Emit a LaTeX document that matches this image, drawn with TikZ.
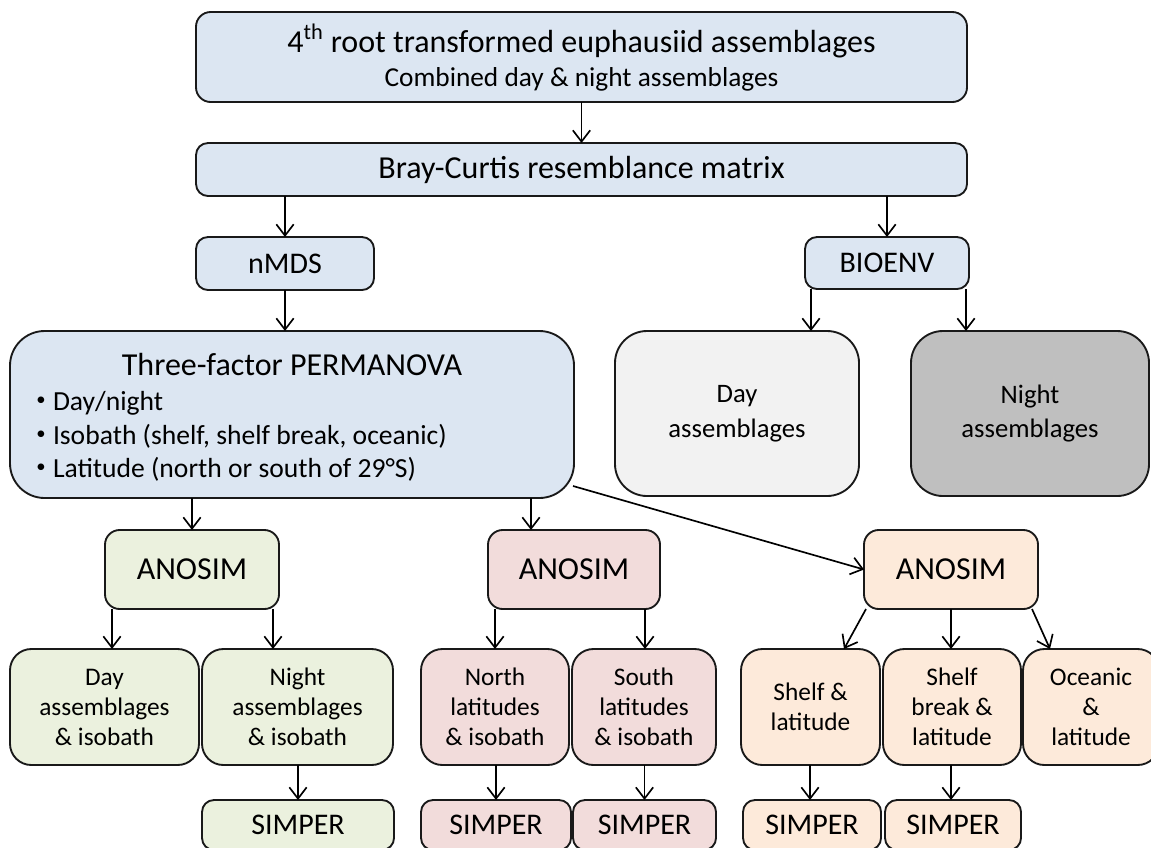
\documentclass[tikz,border=0pt]{standalone}
\usepackage{fontspec}
\setmainfont{Carlito}
\usetikzlibrary{arrows.meta,calc}
\definecolor{cblue}{HTML}{DCE6F2}
\definecolor{cgreen}{HTML}{EBF1DE}
\definecolor{cpink}{HTML}{F2DCDB}
\definecolor{corange}{HTML}{FDEADA}
\definecolor{clight}{HTML}{F2F2F2}
\definecolor{cdark}{HTML}{BFBFBF}
\begin{document}
\begin{tikzpicture}[x=0.75pt,y=-0.75pt,
  every node/.style={inner sep=0pt, outer sep=0pt},
  box/.style={draw=black!90, line width=1.4pt, rounded corners=#1, align=center},
  box/.default=9pt,
  sz/.style 2 args={minimum width={#1*0.75pt}, minimum height={#2*0.75pt}},
  arr/.style={draw=black, line width=1.25pt, -{Straight Barb[length=8.5pt,width=13pt,line width=1.25pt]}},
  fbig/.style={font=\fontsize{24}{28}\selectfont},
  fmid/.style={font=\fontsize{22.5}{27}\selectfont},
  fsmall/.style={font=\fontsize{19}{22.5}\selectfont},
  bul/.style={font=\fontsize{14}{14}\selectfont},
  btxt/.style={anchor=base west, font=\fontsize{20.7}{25}\selectfont},
]
\useasboundingbox (0,0) rectangle (1151,847);
\clip (0,0) rectangle (1151,847);

% top level
\node[box=11pt, sz={771}{90}, fill=cblue] (top) at (581.5,57) {};
\node[anchor=base, fbig] (topt1) at (581.5,52) {4\textsuperscript{th} root transformed euphausiid assemblages};
\node[anchor=base, font=\fontsize{20.5}{24}\selectfont] (topt2) at (581.5,86) {Combined day \& night assemblages};

\node[box=9pt, sz={771}{53}, fill=cblue, fbig] (bray) at (581.5,169.5) {Bray-Curtis resemblance matrix};
\node[box=9pt, sz={178}{53}, fill=cblue, fmid] (nmds) at (285,263.5) {nMDS};
\node[box=9pt, sz={164}{52}, fill=cblue, fmid] (bioenv) at (887,263) {BIOENV};

% PERMANOVA
\node[box=26pt, sz={564}{167}, fill=cblue] (perm) at (292,414.5) {};
\node[anchor=base, fbig] (permt) at (292,375) {Three-factor PERMANOVA};
\node[bul] (b1) at (41,401) {•};
\node[bul] (b2) at (41,435) {•};
\node[bul] (b3) at (41,468) {•};
\node[btxt] (perm1) at (53,410) {Day/night};
\node[btxt] (perm2) at (53,444) {Isobath (shelf, shelf break, oceanic)};
\node[btxt] (perm3) at (53,477) {Latitude (north or south of 29°S)};

% BIOENV outcomes
\node[box=24pt, sz={244}{165}, fill=clight, font=\fontsize{20}{26}\selectfont] (dayA) at (737,413.5) {Day\\assemblages};
\node[box=24pt, sz={238}{165}, fill=cdark, font=\fontsize{20}{26}\selectfont] (nightA) at (1030,413.5) {Night\\assemblages};

% ANOSIM row
\node[box=11pt, sz={174}{79}, fill=cgreen, fbig] (anoG) at (192,569.5) {ANOSIM};
\node[box=11pt, sz={172}{79}, fill=cpink, fbig] (anoP) at (574,569.5) {ANOSIM};
\node[box=11pt, sz={174}{79}, fill=corange, fbig] (anoO) at (951,569.5) {ANOSIM};

% bottom row
\node[box=16pt, sz={189}{116}, fill=cgreen, fsmall] (dayG) at (104.5,707) {Day\\assemblages\\\& isobath};
\node[box=16pt, sz={191}{116}, fill=cgreen, fsmall] (nightG) at (297.5,707) {Night\\assemblages\\\& isobath};
\node[box=16pt, sz={148}{116}, fill=cpink, fsmall] (north) at (495,707) {North\\latitudes\\\& isobath};
\node[box=16pt, sz={144}{116}, fill=cpink, fsmall] (south) at (644,707) {South\\latitudes\\\& isobath};
\node[box=16pt, sz={139}{116}, fill=corange, fsmall] (shelf) at (810.5,707) {Shelf \&\\latitude};
\node[box=16pt, sz={138}{116}, fill=corange, fsmall] (shelfb) at (952,707) {Shelf\\break \&\\latitude};
\node[box=16pt, sz={136}{116}, fill=corange, fsmall] (ocean) at (1091,707) {Oceanic\\\&\\latitude};

% SIMPER row
\node[box=9pt, sz={192}{50}, fill=cgreen, fmid] (simG) at (298,825) {SIMPER};
\node[box=9pt, sz={150}{50}, fill=cpink, fmid] (simP1) at (496,825) {SIMPER};
\node[box=9pt, sz={143}{50}, fill=cpink, fmid] (simP2) at (644.5,825) {SIMPER};
\node[box=9pt, sz={138}{50}, fill=corange, fmid] (simO1) at (812,825) {SIMPER};
\node[box=9pt, sz={136}{50}, fill=corange, fmid] (simO2) at (953,825) {SIMPER};

% connectors
\draw[arr] (top.south) -- (bray.north);
\draw[arr] (nmds.north |- bray.south) -- (nmds.north);
\draw[arr] (bioenv.north |- bray.south) -- (bioenv.north);
\draw[arr] (nmds.south) -- (nmds.south |- perm.north);
\coordinate (bioL) at ($(bioenv.south west)+(6,0)$);
\coordinate (bioR) at ($(bioenv.south east)+(-3,0)$);
\draw[arr] (bioL) -- (bioL |- dayA.north);
\draw[arr] (bioR) -- (bioR |- nightA.north);
\draw[arr] (anoG.north |- perm.south) -- (anoG.north);
\coordinate (permP) at ($(anoP.north)+(-43,0)$);
\draw[arr] (permP |- perm.south) -- (permP);
\coordinate (permD) at ($(perm.south east)+(-1,-12)$);
\draw[arr] (permD) -- (anoO.west);
\coordinate (aGL) at ($(anoG.south west)+(7,0)$);
\coordinate (aGR) at ($(anoG.south east)+(-6,0)$);
\draw[arr] (aGL) -- (aGL |- dayG.north);
\draw[arr] (aGR) -- (aGR |- nightG.north);
\coordinate (aPL) at ($(anoP.south west)+(7,0)$);
\coordinate (aPR) at ($(anoP.south east)+(-15,0)$);
\draw[arr] (aPL) -- (aPL |- north.north);
\draw[arr] (aPR) -- (aPR |- south.north);
\draw[arr] ($(anoO.south west)+(2,0)$) -- ($(shelf.north)+(33.5,0)$);
\draw[arr] (anoO.south) -- (anoO.south |- shelfb.north);
\draw[arr] ($(anoO.south east)+(-6,0)$) -- ($(ocean.north)+(-41,0)$);
\draw[arr] (simG.north |- nightG.south) -- (simG.north);
\draw[arr] (simP1.north |- north.south) -- (simP1.north);
\draw[arr] (simP2.north |- south.south) -- (simP2.north);
\draw[arr] ($(shelf.south)+(-0.5,0)$) -- ($(simO1.north)+(-2,0)$);
\draw[arr] ($(shelfb.south)+(-1,0)$) -- ($(simO2.north)+(-2,0)$);
\end{tikzpicture}
\end{document}
